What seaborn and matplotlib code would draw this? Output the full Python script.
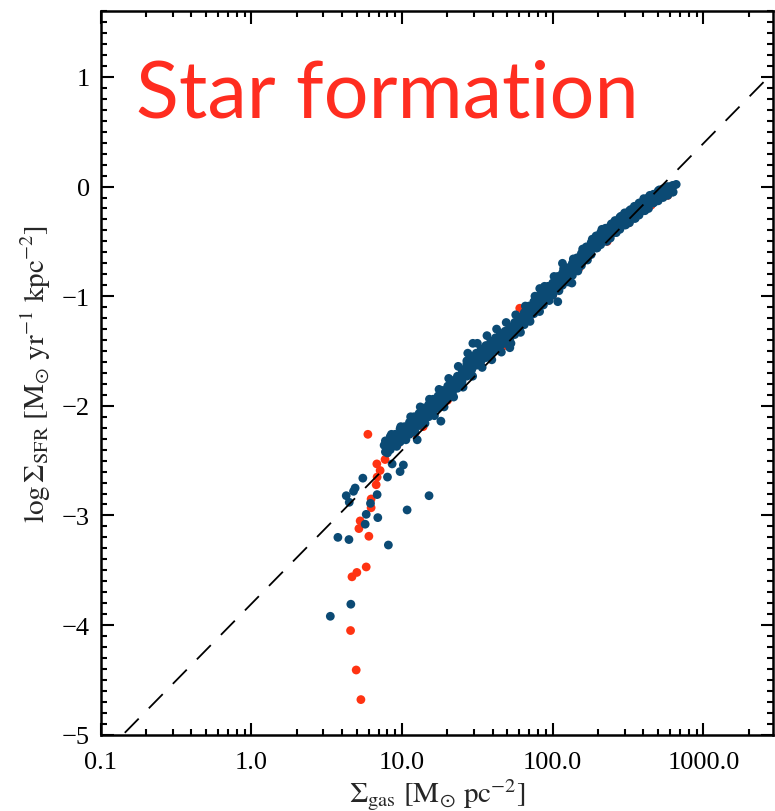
import numpy as np
import pandas as pd
import matplotlib
matplotlib.use("Agg")
import matplotlib.pyplot as plt
import matplotlib.ticker as mticker
import seaborn as sns

# ---------------------------
# Data
# ---------------------------

# main ridge of the relation
blue_mid_gas = [7.6, 8.2, 8.8, 9.5, 10.2, 11.0, 11.8, 12.7, 13.7, 14.7, 15.8, 17.0, 18.3, 19.7,
                21.2, 22.8, 24.5, 26.4, 28.4, 30.5, 32.8, 35.3, 38.0, 40.9, 44.0, 47.3, 50.9,
                54.8, 58.9, 63.4, 68.2, 73.4, 79.0, 85.0, 91.4, 98.4, 106, 114, 122, 132, 142,
                152, 164, 176, 190, 204, 220, 236, 254, 274, 294, 317, 341, 367, 394, 424,
                457, 491, 529, 569, 612, 660]
blue_mid_sfr = [-2.36, -2.37, -2.29, -2.30, -2.23, -2.22, -2.15, -2.14, -2.07, -2.06, -1.99, -1.98,
                -1.91, -1.90, -1.82, -1.80, -1.72, -1.69, -1.61, -1.59, -1.53, -1.52, -1.46, -1.45,
                -1.39, -1.39, -1.33, -1.31, -1.24, -1.22, -1.14, -1.12, -1.05, -1.04, -0.96, -0.95,
                -0.87, -0.86, -0.79, -0.77, -0.70, -0.68, -0.60, -0.58, -0.50, -0.49, -0.43, -0.43,
                -0.36, -0.35, -0.29, -0.29, -0.23, -0.22, -0.17, -0.16, -0.10, -0.09, -0.05, -0.04,
                0.00, 0.02]

# ridge, in-between points
blue_mid2_gas = [7.9, 8.5, 9.1, 9.8, 10.6, 11.4, 12.2, 13.2, 14.2, 15.2, 16.4, 17.6, 19.0, 20.4,
                 22.0, 23.6, 25.4, 27.3, 29.4, 31.6, 34.0, 36.6, 39.4, 42.4, 45.6, 49.1, 52.8,
                 56.8, 61.1, 65.8, 70.7, 76.2, 82.0, 88.2, 94.7, 102, 110, 118, 127, 137, 147,
                 158, 170, 183, 197, 212, 228, 245, 264, 284, 305, 329, 354, 380, 409, 440,
                 474, 510, 549, 590, 636]
blue_mid2_sfr = [-2.33, -2.31, -2.28, -2.25, -2.20, -2.18, -2.13, -2.09, -2.05, -2.02, -1.96, -1.93,
                 -1.88, -1.84, -1.78, -1.74, -1.68, -1.63, -1.58, -1.54, -1.50, -1.47, -1.43, -1.40,
                 -1.37, -1.34, -1.29, -1.26, -1.21, -1.16, -1.11, -1.07, -1.02, -0.98, -0.93, -0.89,
                 -0.85, -0.80, -0.76, -0.71, -0.66, -0.62, -0.57, -0.52, -0.47, -0.44, -0.41, -0.38,
                 -0.34, -0.31, -0.27, -0.24, -0.21, -0.18, -0.14, -0.11, -0.08, -0.06, -0.03, -0.01,
                 0.01]

# inner band just above / below the ridge
blue_in_gas = [7.75, 8.35, 9.0, 9.7, 10.4, 11.2, 12.0, 12.95, 14.0, 15.0, 16.1, 17.35, 18.7, 20.1,
               21.6, 23.3, 25.0, 26.9, 29.0, 31.1, 33.5, 36.0, 38.8, 41.7, 44.9, 48.2, 51.9,
               55.9, 60.1, 64.7, 69.6, 74.9, 80.6, 86.7, 93.2, 100, 108, 116, 124, 135, 145,
               155, 167, 180, 194, 208, 224, 241, 259, 279, 300, 323, 348, 374, 402, 432,
               466, 501, 540, 580, 624]
blue_ina_sfr = [-2.32, -2.28, -2.26, -2.21, -2.19, -2.15, -2.10, -2.07, -2.02, -1.99, -1.94, -1.91,
                -1.86, -1.82, -1.77, -1.73, -1.67, -1.62, -1.56, -1.52, -1.48, -1.45, -1.41, -1.38,
                -1.34, -1.32, -1.28, -1.24, -1.19, -1.15, -1.09, -1.05, -1.00, -0.97, -0.91, -0.88,
                -0.82, -0.79, -0.74, -0.70, -0.65, -0.61, -0.55, -0.51, -0.45, -0.42, -0.38, -0.36,
                -0.31, -0.28, -0.24, -0.22, -0.18, -0.15, -0.11, -0.10, -0.07, -0.04, -0.02, 0.00,
                0.01]
blue_inb_sfr = [-2.42, -2.40, -2.35, -2.33, -2.29, -2.26, -2.21, -2.18, -2.13, -2.10, -2.05, -2.02,
                -1.97, -1.93, -1.88, -1.84, -1.78, -1.73, -1.67, -1.63, -1.59, -1.56, -1.52, -1.49,
                -1.45, -1.43, -1.39, -1.35, -1.30, -1.26, -1.20, -1.16, -1.11, -1.08, -1.02, -0.99,
                -0.93, -0.90, -0.85, -0.81, -0.76, -0.72, -0.66, -0.62, -0.56, -0.53, -0.49, -0.47,
                -0.42, -0.39, -0.35, -0.33, -0.29, -0.26, -0.22, -0.20, -0.15, -0.13, -0.10, -0.08,
                -0.05]

# upper edge of the ridge
blue_up_gas = [8.5, 9.8, 11.4, 13.2, 15.2, 17.6, 20.4, 23.6, 27.3, 31.6, 36.6, 42.4, 49.1, 56.8,
               65.8, 76.2, 88.2, 102, 118, 137, 158, 183, 212, 245, 284, 329, 381, 441, 510]
blue_up_sfr = [-2.26, -2.19, -2.10, -2.01, -1.94, -1.85, -1.75, -1.64, -1.52, -1.43, -1.36, -1.30,
               -1.24, -1.17, -1.09, -1.00, -0.91, -0.82, -0.75, -0.66, -0.57, -0.48, -0.39, -0.34,
               -0.27, -0.21, -0.15, -0.08, -0.03]

# lower edge of the ridge
blue_lo_gas = [8.0, 9.2, 10.6, 12.2, 14.2, 16.4, 19.0, 22.0, 25.4, 29.4, 34.0, 39.4, 45.6, 52.8,
               61.1, 70.7, 81.8, 94.7, 110, 127, 147, 170, 197, 228, 264, 305, 353, 409, 473,
               547, 630]
blue_lo_sfr = [-2.43, -2.37, -2.31, -2.24, -2.16, -2.09, -2.01, -1.92, -1.83, -1.73, -1.65, -1.58,
               -1.51, -1.43, -1.33, -1.23, -1.14, -1.04, -0.95, -0.87, -0.77, -0.67, -0.56, -0.50,
               -0.42, -0.35, -0.29, -0.22, -0.14, -0.08, -0.05]

# scattered blue points
blue_out_gas = [5.49, 4.88, 4.76, 4.26, 4.46, 6.83, 6.17, 5.78, 5.69, 6.90, 15.1, 10.8, 3.75,
                4.44, 8.11, 4.57, 3.34, 7.92, 9.70, 10.2, 8.59, 8.0, 18.1, 12.6, 26.9, 29.5,
                108, 134, 116, 82, 51.9]
blue_out_sfr = [-2.66, -2.75, -2.78, -2.82, -2.88, -2.81, -2.89, -2.99, -3.08, -3.02, -2.82, -2.95,
                -3.20, -3.22, -3.27, -3.81, -3.92, -2.38, -2.60, -2.54, -2.53, -2.65, -2.14, -2.31,
                -1.59, -1.43, -1.05, -0.88, -0.70, -0.93, -1.47]

# red points
red_gas = [5.93, 6.80, 7.15, 6.83, 6.73, 6.23, 6.23, 5.27, 5.17, 6.02, 5.78, 5.01, 4.65, 4.55,
           4.96, 5.33, 13.8, 12.2, 9.27, 7.71, 60.4,
           20, 33, 48, 70, 100, 150, 230, 320, 450, 580, 40, 90, 200]
red_sfr = [-2.26, -2.53, -2.59, -2.65, -2.72, -2.85, -2.93, -3.05, -3.12, -3.19, -3.47, -3.52,
           -3.56, -4.05, -4.41, -4.68, -2.19, -2.25, -2.36, -2.49, -1.11,
           -1.95, -1.62, -1.45, -1.22, -0.99, -0.74, -0.50, -0.33, -0.17, -0.08, -1.47, -1.00, -0.52]

# Kennicutt (1998) relation, Chabrier-corrected
ks_norm = np.log10(2.5e-4 / 1.6)
ks_slope = 1.4

# ---------------------------
# Build table
# ---------------------------

blue_gas = (blue_mid_gas + blue_mid2_gas + blue_in_gas + blue_in_gas
            + blue_up_gas + blue_lo_gas + blue_out_gas)
blue_sfr = (blue_mid_sfr + blue_mid2_sfr + blue_ina_sfr + blue_inb_sfr
            + blue_up_sfr + blue_lo_sfr + blue_out_sfr)

df = pd.DataFrame({
    "gas": red_gas + blue_gas,
    "sfr": red_sfr + blue_sfr,
    "set": ["red"] * len(red_gas) + ["blue"] * len(blue_gas),
})

# ---------------------------
# Plot
# ---------------------------

sns.set_style("ticks")
plt.rcParams["font.family"] = ["Liberation Serif", "DejaVu Serif"]
plt.rcParams["mathtext.fontset"] = "stix"

fig = plt.figure(figsize=(7.75, 8.12), dpi=100)
ax = fig.add_axes([0.130, 0.094, 0.8675, 0.891])

sns.scatterplot(data=df, x="gas", y="sfr", hue="set",
                palette={"red": "#ff3312", "blue": "#0b4a74"},
                s=40, edgecolor="none", linewidth=0, legend=False, ax=ax)

xl = np.array([0.1, 3000.0])
ax.plot(xl, ks_norm + ks_slope * np.log10(xl), color="black", lw=1.3,
        dashes=(11, 8))

ax.set_xscale("log")
ax.set_xlim(0.1, 2900)
ax.set_ylim(-5, 1.6)

ax.xaxis.set_major_locator(mticker.FixedLocator([0.1, 1, 10, 100, 1000]))
ax.xaxis.set_major_formatter(mticker.FixedFormatter(["0.1", "1.0", "10.0", "100.0", "1000.0"]))
ax.xaxis.set_minor_locator(mticker.LogLocator(base=10, subs=np.arange(2, 10)))
ax.xaxis.set_minor_formatter(mticker.NullFormatter())
ax.yaxis.set_major_locator(mticker.MultipleLocator(1))
ax.yaxis.set_minor_locator(mticker.MultipleLocator(0.1))

ax.tick_params(which="both", direction="in", top=True, right=True, width=1.5,
               labelsize=19, colors="black")
ax.tick_params(which="major", length=9)
ax.tick_params(axis="x", which="major", pad=12)
ax.tick_params(axis="y", which="major", pad=8)
ax.tick_params(which="minor", length=4.5)
for sp in ax.spines.values():
    sp.set_linewidth(1.8)
    sp.set_color("black")

ax.set_xlabel(r"$\Sigma_{\rm gas}\ [{\rm M}_{\odot}\ {\rm pc}^{-2}]$", fontsize=21, labelpad=2)
ax.set_ylabel(r"$\log\Sigma_{\rm SFR}\ [{\rm M}_{\odot}\ {\rm yr}^{-1}\ {\rm kpc}^{-2}]$",
              fontsize=21, labelpad=6)

ax.text(0.052, 0.854, "Star formation", transform=ax.transAxes, color="#ff2d20",
        fontsize=57, family=["Lato", "DejaVu Sans"], ha="left", va="baseline")

plt.savefig("out.png", dpi=100)
